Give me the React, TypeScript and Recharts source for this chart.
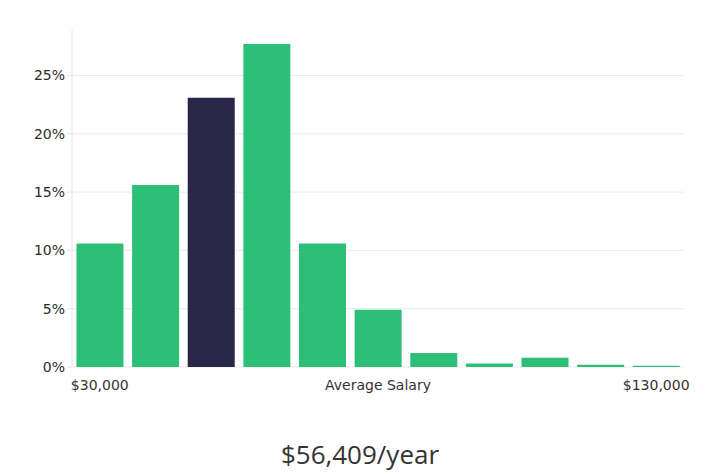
import { BarChart, Bar, XAxis, YAxis, CartesianGrid, Cell } from 'recharts';

// salary buckets from $30,000 to $130,000, share of people in each
const buckets = ['$30,000', '', '', '', '', 'Average Salary', '', '', '', '', '$130,000'];
const shares = [10.6, 15.6, 23.1, 27.7, 10.6, 4.9, 1.2, 0.3, 0.8, 0.2, 0.1];
const highlighted = 2;
const yTicks = [0, 5, 10, 15, 20, 25];

const GREEN = '#2dbf78';
const DARK = '#29264a';

export default function App() {
    const chartData = buckets.map((b, i) => ({
        key: i,
        label: b,
        value: shares[i]
    }));

    const font = '"DejaVu Sans", sans-serif';

    return (
        <div style={{ position: 'absolute', left: 0, top: 0, width: 720, height: 474, background: '#fff' }}>
            <BarChart
                width={720}
                height={400}
                data={chartData}
                margin={{ top: 30, right: 36, left: 0, bottom: 8 }}
                barCategoryGap="8%"
            >
                <CartesianGrid vertical={false} horizontalValues={yTicks} stroke="#ebebeb" />
                <XAxis
                    dataKey="key"
                    tickFormatter={(k: any) => buckets[k]}
                    interval={0}
                    axisLine={false}
                    tickLine={false}
                    tickMargin={7}
                    height={25}
                    tick={{ fill: '#333', fontSize: 14, fontFamily: font }}
                />
                <YAxis
                    width={72}
                    domain={[0, 28.9]}
                    ticks={yTicks}
                    tickFormatter={(v: any) => v + '%'}
                    axisLine={{ stroke: '#e6e6e6' }}
                    tickLine={{ stroke: '#e6e6e6' }}
                    tickSize={5}
                    tickMargin={2}
                    tick={{ fill: '#2b2b2b', fontSize: 14, fontFamily: font }}
                />
                <Bar dataKey="value" isAnimationActive={false}>
                    {chartData.map((_, i) => (
                        <Cell key={i} fill={i === highlighted ? DARK : GREEN} />
                    ))}
                </Bar>
            </BarChart>
            <div
                style={{
                    position: 'absolute',
                    top: 436,
                    left: 0,
                    width: 720,
                    textAlign: 'center',
                    fontFamily: '"Open Sans", sans-serif',
                    fontSize: 26,
                    color: '#333'
                }}
            >
                $56,409/year
            </div>
        </div>
    );
}
